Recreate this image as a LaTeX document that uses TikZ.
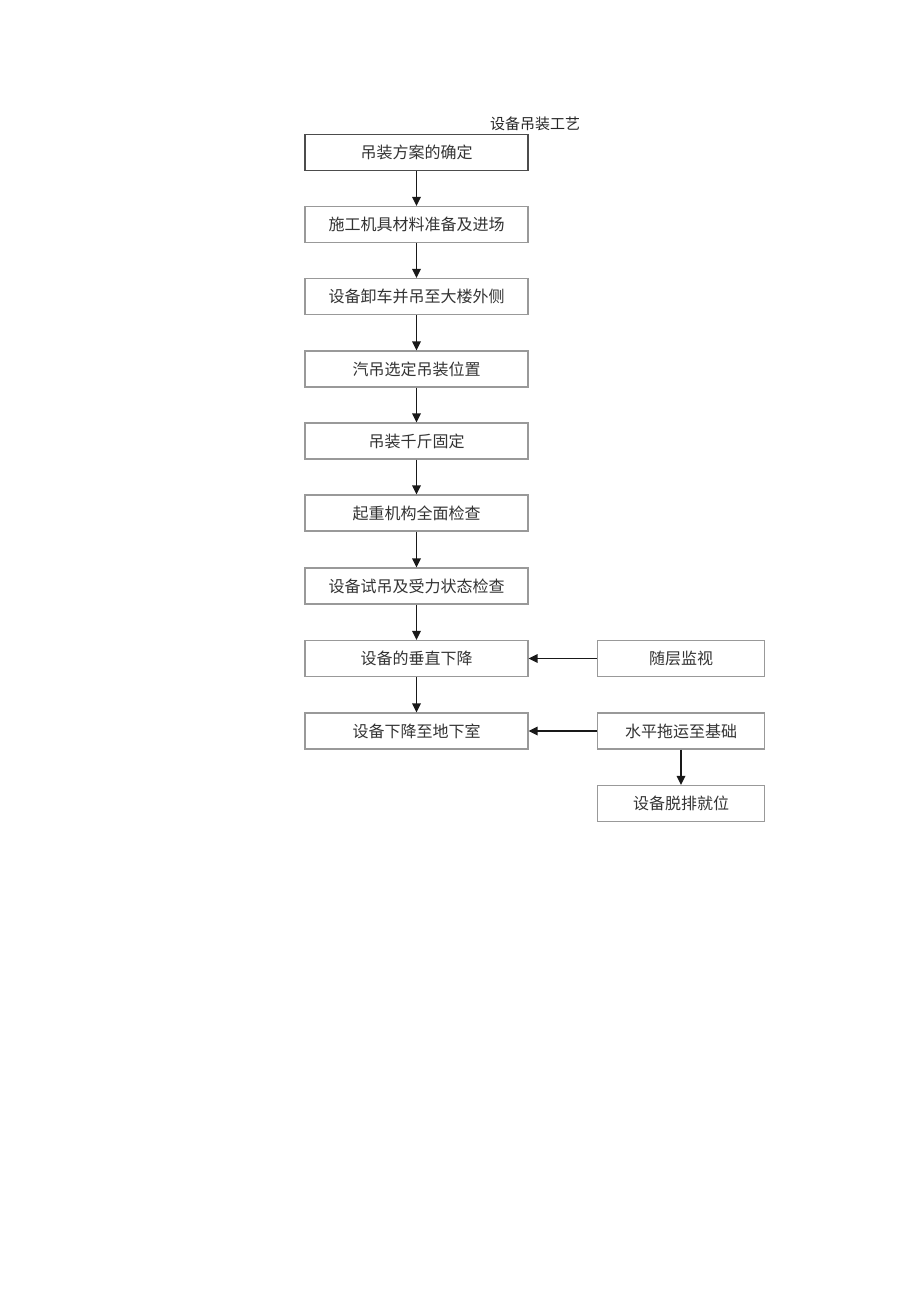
\documentclass[tikz,border=0pt]{standalone}
\usepackage{fontspec}
\setmainfont{Noto Sans CJK SC}
\usetikzlibrary{arrows.meta}
\begin{document}
\begin{tikzpicture}[x=1pt,y=-1pt,
  box/.style={draw=black!40,line width=1.1pt,minimum width=223pt,minimum height=36pt,inner sep=0pt,font=\fontsize{16}{16}\selectfont,text=black!80},
  rbox/.style={box,minimum width=167pt},
  firstbox/.style={box,draw=black!70,line width=1.5pt},
  arr/.style={-{Triangle[length=9pt,width=8.5pt]},line width=1.7pt,draw=black!90}]
\useasboundingbox (0,0) rectangle (920,1301);
\node[font=\fontsize{15}{15}\selectfont,text=black!85] (title) at (535,124) {设备吊装工艺};
\node[firstbox] (b1) at (416.5,152.5) {吊装方案的确定};
\node[box] (b2) at (416.5,224.5) {施工机具材料准备及进场};
\node[box] (b3) at (416.5,296.5) {设备卸车并吊至大楼外侧};
\node[box] (b4) at (416.5,369) {汽吊选定吊装位置};
\node[box] (b5) at (416.5,441) {吊装千斤固定};
\node[box] (b6) at (416.5,513) {起重机构全面检查};
\node[box] (b7) at (416.5,586) {设备试吊及受力状态检查};
\node[box] (b8) at (416.5,658.5) {设备的垂直下降};
\node[box] (b9) at (416.5,731) {设备下降至地下室};
\node[rbox] (r1) at (681,658.5) {随层监视};
\node[rbox] (r2) at (681,731) {水平拖运至基础};
\node[rbox] (r3) at (681,803.5) {设备脱排就位};
\foreach \a/\b in {b1/b2,b2/b3,b3/b4,b4/b5,b5/b6,b6/b7,b7/b8,b8/b9,r2/r3}
  \draw[arr] (\a.south) -- (\b.north);
\draw[arr] (r1.west) -- (b8.east);
\draw[arr] (r2.west) -- (b9.east);
\end{tikzpicture}
\end{document}
